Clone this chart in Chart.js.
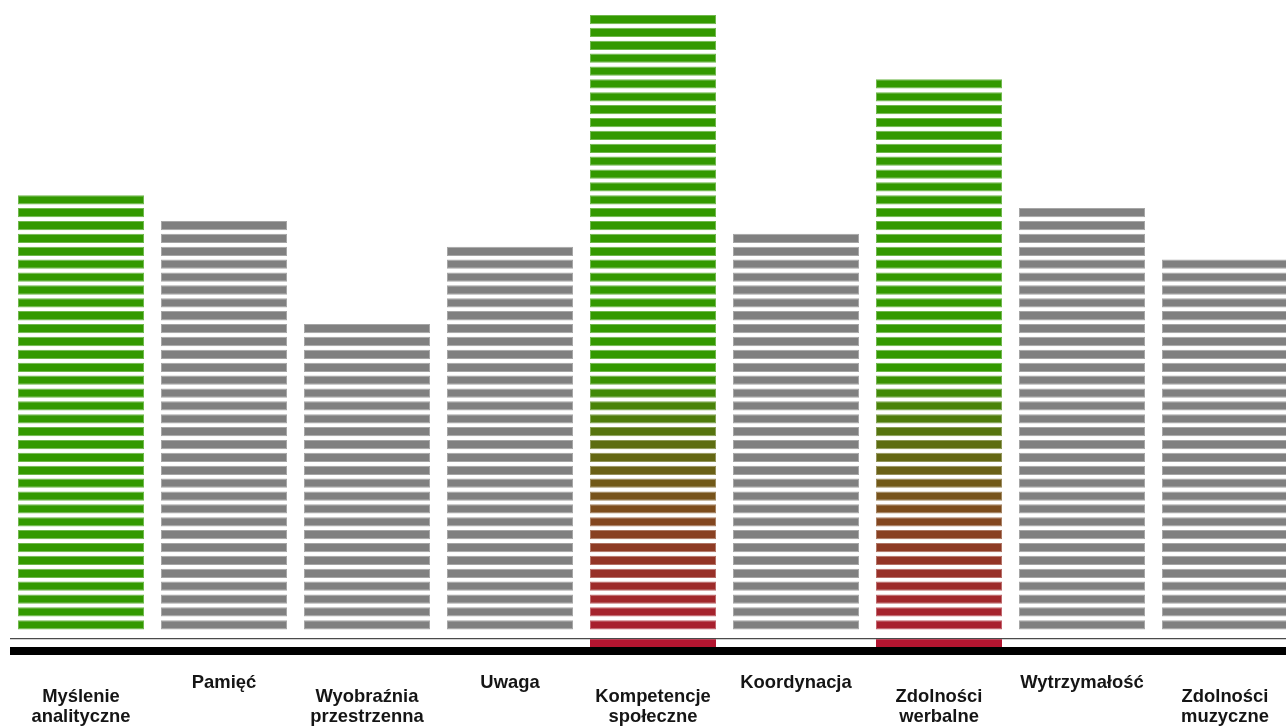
<!DOCTYPE html>
<html>
<head>
<meta charset="utf-8">
<script src="https://cdn.jsdelivr.net/npm/chart.js@4"></script>
<style>
html, body { margin: 0; padding: 0; background: #fff; overflow: hidden; }
#wrap { width: 1300px; height: 727px; }
canvas { display: block; }
</style>
</head>
<body>
<div id="wrap"><canvas id="c" width="1300" height="727"></canvas></div>
<script>
// ---- data ----
const categories = ['Myślenie analityczne', 'Pamięć', 'Wyobraźnia przestrzenna', 'Uwaga', 'Kompetencje społeczne', 'Koordynacja', 'Zdolności werbalne', 'Wytrzymałość', 'Zdolności muzyczne'];
const stripeCounts = [34, 32, 24, 30, 48, 31, 43, 33, 29];
const tickLabels = [['Myślenie', 'analityczne'], ['Pamięć'], ['Wyobraźnia', 'przestrzenna'], ['Uwaga'], ['Kompetencje', 'społeczne'], ['Koordynacja'], ['Zdolności', 'werbalne'], ['Wytrzymałość'], ['Zdolności', 'muzyczne']];
const greenCategories = ['Myślenie analityczne', 'Kompetencje społeczne', 'Zdolności werbalne'];
const fadingCategories = ['Kompetencje społeczne', 'Zdolności werbalne'];

// ---- styling ----
const GREEN = [51, 153, 0];
const RED = [168, 32, 46];
const GRAY = [128, 128, 128];
const FADE_LEVELS = 20;
const STRIPE = 0.72;
const Y_MAX = 48.875, Y_MIN = -1.669, THIN_LINE = -0.722;
const BLOCK = [-1.36, -0.76];

function rgb(c) { return 'rgb(' + c.map(v => Math.round(v)).join(',') + ')'; }
function mix(a, b, t) { return a.map((v, k) => v + (b[k] - v) * t); }
function baseColor(c, level) {
  const name = categories[c];
  if (!greenCategories.includes(name)) return GRAY;
  if (fadingCategories.includes(name) && level < FADE_LEVELS) {
    const t = Math.pow(level / FADE_LEVELS, 1.25);
    return mix(RED, GREEN, t);
  }
  return GREEN;
}

const maxLevel = Math.max(...stripeCounts);
const datasets = [];
for (let level = 0; level < maxLevel; level++) {
  datasets.push({
    data: stripeCounts.map(n => n > level ? [level, level + STRIPE] : null),
    backgroundColor: categories.map((_, c) => rgb(baseColor(c, level))),
    borderColor: categories.map((_, c) => rgb(mix(baseColor(c, level), [255, 255, 255], 0.3))),
    borderWidth: 1,
    borderSkipped: false,
    grouped: false,
    barPercentage: 126 / 143,
    categoryPercentage: 1
  });
}
datasets.push({
  data: categories.map(n => fadingCategories.includes(n) ? BLOCK : null),
  backgroundColor: '#b31530',
  borderWidth: 0,
  grouped: false,
  barPercentage: 126 / 143,
  categoryPercentage: 1
});

const labelPlugin = {
  id: 'stagLabels',
  afterDraw(chart) {
    const ctx = chart.ctx;
    const xs = chart.scales.x;
    ctx.save();
    ctx.font = 'bold 18.4px "Liberation Sans", Arial, sans-serif';
    ctx.fillStyle = '#151515';
    ctx.textAlign = 'center';
    ctx.textBaseline = 'alphabetic';
    tickLabels.forEach((lines, i) => {
      const x = xs.getPixelForValue(i);
      const y0 = (i % 2 === 0) ? 701.5 : 688.3;
      lines.forEach((ln, k) => ctx.fillText(ln, x, y0 + k * 20.5));
    });
    ctx.restore();
  }
};

new Chart(document.getElementById('c'), {
  type: 'bar',
  data: { labels: categories, datasets },
  options: {
    responsive: false,
    animation: false,
    events: [],
    layout: { padding: { left: 9.5, right: 3.5, top: 0, bottom: 76 } },
    plugins: { legend: { display: false }, tooltip: { enabled: false } },
    scales: {
      x: { display: false, offset: true },
      y: {
        min: Y_MIN, max: Y_MAX,
        afterBuildTicks: s => { s.ticks = [{ value: Y_MIN }, { value: THIN_LINE }]; },
        ticks: { display: false },
        border: { display: false },
        grid: {
          drawTicks: false,
          color: c => (c.tick && c.tick.value === Y_MIN) ? '#000' : '#4a4a4a',
          lineWidth: c => (c.tick && c.tick.value === Y_MIN) ? 8 : 1.2
        }
      }
    }
  },
  plugins: [labelPlugin]
});
</script>
</body>
</html>
